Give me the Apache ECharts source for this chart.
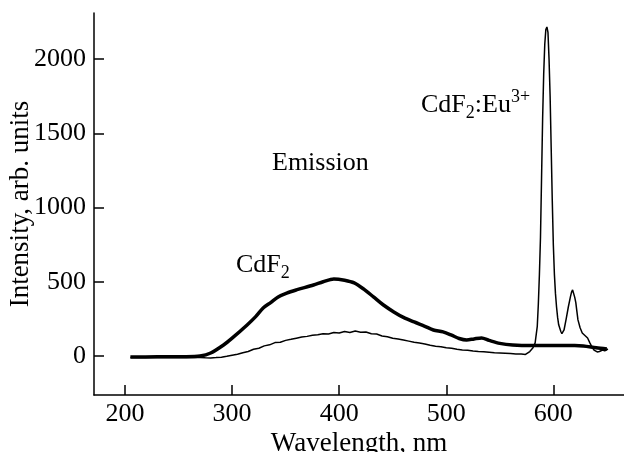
<!DOCTYPE html>
<html>
<head>
<meta charset="utf-8">
<script src="https://cdn.jsdelivr.net/npm/echarts@6/dist/echarts.min.js"></script>
<style>html,body{margin:0;padding:0;background:#fff;}#c{width:624px;height:452px;}</style>
</head>
<body>
<div id="c"></div>
<script>
// Thick curve: undoped CdF2 emission
var cdf2Wl  = [205,230,255,270,280,292,300,314,322,329,336,343,351,360,376,385,395,405,414,423,432,441,451,460,470,480,488,497,505,512,519,526,533,540,550,562,580,600,620,628,640,650];
var cdf2Int = [-7,-6,-5,0,20,74,120,209,265,323,360,398,424,445,478,500,519,510,492,450,398,345,297,260,229,200,175,162,140,118,108,115,121,105,85,74,70,70,70,67,55,47];
// Thin curve: CdF2:Eu3+ emission
var euWl  = [205,210,215,220,225,230,235,240,245,250,255,260,265,270,275,280,285,290,295,300,305,310,315,320,325,330,335,340,345,350,355,360,365,370,375,380,385,390,395,400,405,410,415,420,425,430,435,440,445,450,455,460,465,470,475,480,485,490,495,500,505,510,515,520,525,530,535,540,545,550,555,560,565,570,574,578,581,583,585,586,587,588,589,590,591,592,593,594,595,596,597,598,599,600,601,602,603,604,605,607,608,610,612,614,616,617,618,619,620,621,622,623,625,627,630,632,634,636,638,641,643,646,648,651];
var euInt = [-10,-8,-11,-9,-10,-8,-11,-9,-10,-8,-10,-9,-11,-10,-12,-13,-11,-8,-2,5,12,22,30,45,52,68,75,90,92,105,112,120,128,132,140,143,150,148,158,155,165,158,168,160,162,150,148,135,130,120,115,108,100,92,88,80,72,65,62,55,52,45,40,38,33,30,28,25,22,20,18,16,14,13,10,30,55,88,200,350,550,800,1200,1600,1900,2100,2200,2217,2180,2000,1750,1400,1050,750,550,420,330,260,210,165,150,175,250,330,400,430,445,420,395,360,300,243,190,155,135,121,90,61,40,27,30,40,35,47];
// Axis ticks
var xTicks = [200,300,400,500,600];
var yTicks = [0,500,1000,1500,2000];

function pairs(xs, ys){ return xs.map(function(x,i){ return [x, ys[i]]; }); }

var FONT = '"Liberation Serif","Times New Roman",serif';
var chart = echarts.init(document.getElementById('c'), null, {renderer:'canvas'});
var axisLineStyle = {color:'#000', width:1.5};
chart.setOption({
  animation:false,
  backgroundColor:'#fff',
  grid:{left:94, right:0, top:13, bottom:57, containLabel:false, outerBoundsMode:'none'},
  xAxis:{
    type:'value', min:171, max:666,
    name:'Wavelength, nm', nameLocation:'middle', nameGap:35, nameMoveOverlap:false,
    nameTextStyle:{fontFamily:FONT, fontSize:27, color:'#000'},
    axisLine:{show:true, onZero:false, lineStyle:axisLineStyle},
    axisTick:{show:true, inside:true, length:10, lineStyle:axisLineStyle, customValues:xTicks},
    axisLabel:{fontFamily:FONT, fontSize:26, color:'#000', margin:6, customValues:xTicks,
               formatter:function(v){return String(v);}},
    splitLine:{show:false}
  },
  yAxis:{
    type:'value', min:-263, max:2311,
    name:'Intensity, arb. units', nameLocation:'middle', nameGap:60, nameMoveOverlap:false,
    nameTextStyle:{fontFamily:FONT, fontSize:27, color:'#000'},
    axisLine:{show:true, onZero:false, lineStyle:axisLineStyle},
    axisTick:{show:true, inside:true, length:10, lineStyle:axisLineStyle, customValues:yTicks},
    axisLabel:{fontFamily:FONT, fontSize:26, color:'#000', margin:8, customValues:yTicks,
               formatter:function(v){return String(v);}},
    splitLine:{show:false}
  },
  series:[
    {type:'line', data:pairs(cdf2Wl, cdf2Int), showSymbol:false, smooth:0.3,
     lineStyle:{color:'#000', width:3.5}, z:3},
    {type:'line', data:pairs(euWl, euInt), showSymbol:false, smooth:false,
     lineStyle:{color:'#000', width:1.5}, z:2}
  ],
  graphic:[
    {type:'text', left:272, top:150, style:{text:'Emission', font:'26px '+FONT, fill:'#000'}},
    {type:'text', left:421, top:88, style:{
      text:'{m|CdF}{s|2}{m|:Eu}{p|3+}', fill:'#000',
      rich:{
        m:{fontFamily:FONT, fontSize:26, lineHeight:34, verticalAlign:'middle'},
        s:{fontFamily:FONT, fontSize:18, lineHeight:34, verticalAlign:'bottom'},
        p:{fontFamily:FONT, fontSize:18, lineHeight:34, verticalAlign:'top'}
      }}},
    {type:'text', left:236, top:252, style:{
      text:'{m|CdF}{s|2}', fill:'#000',
      rich:{
        m:{fontFamily:FONT, fontSize:26, lineHeight:34, verticalAlign:'middle'},
        s:{fontFamily:FONT, fontSize:18, lineHeight:34, verticalAlign:'bottom'}
      }}}
  ]
});
</script>
</body>
</html>
